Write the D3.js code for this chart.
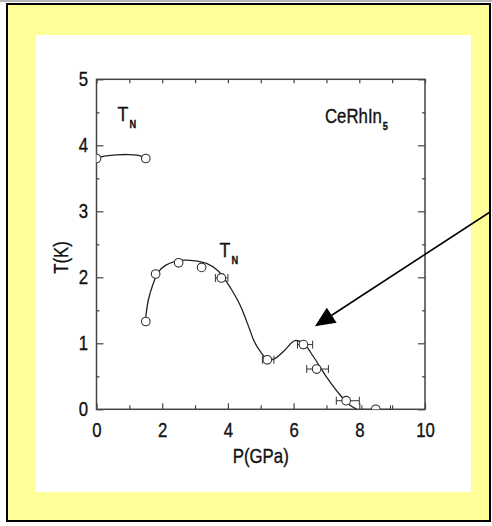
<!DOCTYPE html>
<html>
<head>
<meta charset="utf-8">
<script src="https://cdn.jsdelivr.net/npm/d3@7"></script>
<style>
  html, body { margin: 0; padding: 0; background: #fff; }
  svg { display: block; }
  text { font-family: "Liberation Sans", Arial, sans-serif; fill: #111; stroke: #111; stroke-width: 0.35px; }
</style>
</head>
<body>
<script>
// Pressure (GPa) and Néel temperature T_N (K) for CeRhIn5
const lowP = [0, 1.5];
const lowT = [3.8, 3.8];

const highP = [1.5, 1.8, 2.5, 3.2, 3.8, 5.2, 6.3, 6.7, 7.6, 8.5];
const highT = [1.33, 2.05, 2.22, 2.15, 1.99, 0.75, 0.98, 0.61, 0.13, 0.0];
// horizontal pressure uncertainty (GPa), 0 = none drawn
const highErrLo = [0, 0, 0, 0, 0.18, 0.15, 0.18, 0.3, 0.3, 0.42];
const highErrHi = [0, 0, 0, 0, 0.2, 0.2, 0.28, 0.36, 0.4, 0.45];

// guide-to-the-eye curves through the data
const fitLowP = [0, 0.3, 0.6, 0.96, 1.25, 1.5];
const fitLowT = [3.81, 3.84, 3.855, 3.86, 3.85, 3.81];
const fitHighP = [1.5, 1.58, 1.73, 1.88, 2.1, 2.4, 2.65, 3.0, 3.35, 3.7, 3.96, 4.2, 4.37, 4.52, 4.67, 4.8, 4.98, 5.18, 5.4, 5.7, 6.04, 6.3, 6.6, 7.0, 7.41, 7.7, 7.92];
const fitHighT = [1.4, 1.66, 1.91, 2.08, 2.18, 2.24, 2.26, 2.25, 2.21, 2.1, 1.93, 1.74, 1.58, 1.4, 1.2, 1.03, 0.88, 0.77, 0.76, 0.88, 1.04, 1.0, 0.8, 0.49, 0.22, 0.07, 0.0];

const xMajor = [0, 2, 4, 6, 8, 10];
const xMinor = [1, 3, 5, 7, 9];
const yMajor = [0, 1, 2, 3, 4, 5];
const yMinor = [0.5, 1.5, 2.5, 3.5, 4.5];

const W = 492, H = 526;
const FS = 20, SX = 0.84;   // label font size and horizontal condensing
const svg = d3.select("body").append("svg").attr("width", W).attr("height", H);

// squeeze a text element horizontally around its anchor point
function condense(sel, sx) {
  sel.each(function () {
    const t = d3.select(this);
    const tx = +t.attr("x") || 0, ty = +t.attr("y") || 0;
    t.attr("x", 0).attr("y", 0).attr("transform", `translate(${tx},${ty}) scale(${sx},1)`);
  });
}

// page frame
svg.append("rect").attr("x", 0).attr("y", 0).attr("width", W).attr("height", 2).attr("fill", "#b5b5b5");
svg.append("rect").attr("x", 7).attr("y", 4).attr("width", 483).attr("height", 517)
  .attr("fill", "#ffff99").attr("stroke", "#000").attr("stroke-width", 2);
svg.append("rect").attr("x", 36).attr("y", 35).attr("width", 435).attr("height", 457).attr("fill", "#fff");

const x = d3.scaleLinear().domain([0, 10]).range([96.5, 425]);
const y = d3.scaleLinear().domain([0, 5]).range([409.3, 79.3]);

const axisColor = "#444";
function styleAxis(g) {
  g.select(".domain").remove();
  g.selectAll(".tick line").attr("stroke", axisColor).attr("stroke-width", 1.2);
  g.selectAll("text").attr("font-size", FS).attr("fill", "#111").call(condense, SX);
}

// bottom axis with labels
svg.append("g").attr("transform", `translate(0,${y(0)})`)
  .call(d3.axisBottom(x).tickValues(xMajor).tickSize(-6).tickPadding(13.5).tickFormat(d3.format("d")))
  .call(styleAxis);
svg.append("g").attr("transform", `translate(0,${y(0)})`)
  .call(d3.axisBottom(x).tickValues(xMinor).tickSize(-4).tickFormat(""))
  .call(styleAxis);
// top axis
svg.append("g").attr("transform", `translate(0,${y(5)})`)
  .call(d3.axisTop(x).tickValues(xMajor.concat(xMinor)).tickSize(-4).tickFormat(""))
  .call(styleAxis);
// left axis with labels
svg.append("g").attr("transform", `translate(${x(0)},0)`)
  .call(d3.axisLeft(y).tickValues(yMajor).tickSize(-7).tickPadding(8.5).tickFormat(d3.format("d")))
  .call(styleAxis);
svg.append("g").attr("transform", `translate(${x(0)},0)`)
  .call(d3.axisLeft(y).tickValues(yMinor).tickSize(-3).tickFormat(""))
  .call(styleAxis);
// right axis
svg.append("g").attr("transform", `translate(${x(10)},0)`)
  .call(d3.axisRight(y).tickValues(yMajor).tickSize(-7).tickFormat(""))
  .call(styleAxis);
svg.append("g").attr("transform", `translate(${x(10)},0)`)
  .call(d3.axisRight(y).tickValues(yMinor).tickSize(-3).tickFormat(""))
  .call(styleAxis);

// plot frame
svg.append("rect").attr("x", x(0)).attr("y", y(5))
  .attr("width", x(10) - x(0)).attr("height", y(0) - y(5))
  .attr("fill", "none").attr("stroke", axisColor).attr("stroke-width", 1.5);

svg.append("clipPath").attr("id", "plotClip").append("rect")
  .attr("x", x(0)).attr("y", y(5)).attr("width", x(10) - x(0)).attr("height", y(0) - y(5));

const plot = svg.append("g").attr("clip-path", "url(#plotClip)");

const line = d3.line().x(d => x(d[0])).y(d => y(d[1])).curve(d3.curveCatmullRom.alpha(0.5));
plot.append("path").datum(d3.zip(fitLowP, fitLowT)).attr("d", line)
  .attr("fill", "none").attr("stroke", "#222").attr("stroke-width", 1.3);
plot.append("path").datum(d3.zip(fitHighP, fitHighT)).attr("d", line)
  .attr("fill", "none").attr("stroke", "#222").attr("stroke-width", 1.3);

// error bars
const errData = highP.map((p, i) => ({ p, t: highT[i], lo: p - highErrLo[i], hi: p + highErrHi[i] }))
  .filter(d => d.hi > d.lo);
const eb = plot.selectAll(".eb").data(errData).join("g").attr("stroke", "#333").attr("stroke-width", 1);
eb.append("line").attr("x1", d => x(d.lo)).attr("x2", d => x(d.hi)).attr("y1", d => y(d.t)).attr("y2", d => y(d.t));
eb.append("line").attr("x1", d => x(d.lo)).attr("x2", d => x(d.lo)).attr("y1", d => y(d.t) - 4).attr("y2", d => y(d.t) + 4);
eb.append("line").attr("x1", d => x(d.hi)).attr("x2", d => x(d.hi)).attr("y1", d => y(d.t) - 4).attr("y2", d => y(d.t) + 4);

// data points
const pts = d3.zip(lowP, lowT).concat(d3.zip(highP, highT));
plot.selectAll(".pt").data(pts).join("circle")
  .attr("cx", d => x(d[0])).attr("cy", d => y(d[1])).attr("r", 4.3)
  .attr("fill", "#fff").attr("stroke", "#333").attr("stroke-width", 1.1);

// labels
function subLabel(px, py, main, sub, size, subSize, subDx, subDy) {
  const t = svg.append("text").attr("x", px).attr("y", py).attr("font-size", size);
  t.append("tspan").text(main);
  t.append("tspan").attr("dx", subDx).attr("dy", subDy).attr("font-size", subSize).attr("font-weight", "bold").text(sub);
  condense(t, SX);
}
subLabel(117.5, 121, "T", "N", 21, 11, 1.5, 7);
subLabel(219.5, 257, "T", "N", 21, 11, 1.5, 7);
subLabel(325, 123, "CeRhIn", "5", FS, 11, 1, 7);

svg.append("text").attr("x", x(5)).attr("y", 463).attr("text-anchor", "middle")
  .attr("font-size", FS).text("P(GPa)").call(condense, SX);
svg.append("text").attr("transform", `translate(68,${y(2.3)}) rotate(-90) scale(${SX},1)`).attr("text-anchor", "middle")
  .attr("font-size", FS).text("T(K)");

// annotation arrow
const arrowFrom = [11.98, 2.99], arrowTo = [6.65, 1.26];
const ax0 = x(arrowFrom[0]), ay0 = y(arrowFrom[1]), ax1 = x(arrowTo[0]), ay1 = y(arrowTo[1]);
const ang = Math.atan2(ay1 - ay0, ax1 - ax0);
const headLen = 20, headHalf = 9;
const bx = ax1 - headLen * Math.cos(ang), by = ay1 - headLen * Math.sin(ang);
svg.append("line").attr("x1", ax0).attr("y1", ay0).attr("x2", bx).attr("y2", by)
  .attr("stroke", "#000").attr("stroke-width", 1.6);
svg.append("path").attr("d", d3.line()([
  [ax1, ay1],
  [bx + headHalf * Math.sin(ang), by - headHalf * Math.cos(ang)],
  [bx - headHalf * Math.sin(ang), by + headHalf * Math.cos(ang)]
])).attr("fill", "#000");
</script>
</body>
</html>
